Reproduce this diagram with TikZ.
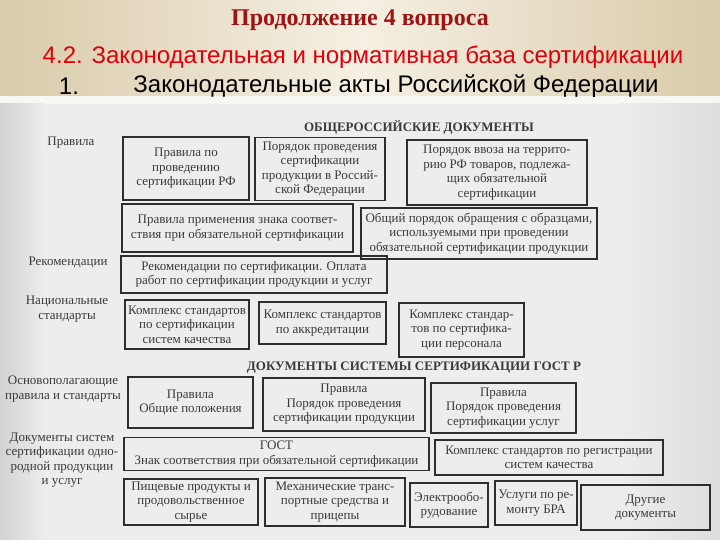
\documentclass[tikz,border=0pt]{standalone}
\usepackage{fontspec}
\setmainfont{Liberation Serif}
\newfontfamily\sansf{Liberation Sans}
\definecolor{beigeD}{HTML}{D9CBAA}
\definecolor{beigeL}{HTML}{F5F0E3}
\definecolor{scan}{HTML}{EDEDED}
\definecolor{scanD}{HTML}{D2D2D2}
\definecolor{strip}{HTML}{F7F7F4}
\definecolor{boxc}{HTML}{2E2E2E}
\definecolor{txtc}{HTML}{3A3A3A}
\definecolor{darkred}{HTML}{9E1414}
\definecolor{brightred}{HTML}{E0000A}
\newcommand{\bodyf}{\fontsize{13}{14.5}\selectfont}
\tikzset{
  bx/.style={draw=boxc, line width=1.1pt, align=center, inner sep=0pt, font=\bodyf, text=txtc},
  lbl/.style={align=center, inner sep=0pt, font=\bodyf, text=txtc},
  hdr/.style={inner sep=0pt, font=\fontsize{13}{15}\selectfont\bfseries, text=txtc},
}
\begin{document}
\begin{tikzpicture}[x=1pt,y=-1pt]
\useasboundingbox (0,0) rectangle (720,540);
% backgrounds
\shade[left color=beigeD, right color=beigeD, middle color=beigeL] (0,0) rectangle (720,97);
\fill[scan] (0,97) rectangle (720,540);
\fill[strip] (0,96) rectangle (720,104);
\shade[left color=scanD, right color=scan] (0,104) rectangle (45,540);
\shade[left color=scan, right color=scanD!60!scan] (620,104) rectangle (720,540);
% titles
\node[inner sep=0pt, font=\fontsize{24}{27}\selectfont\bfseries, text=darkred] (t1) at (360,20) {Продолжение 4 вопроса};
\node[inner sep=0pt, font=\sansf\fontsize{24}{27}\selectfont, text=brightred] (t2) at (363,57) {4.2. Законодательная и нормативная база сертификации};
\node[inner sep=0pt, font=\sansf\fontsize{24}{27}\selectfont, text=black] (t3a) at (69,86) {1.};
\node[inner sep=0pt, font=\sansf\fontsize{24}{27}\selectfont, text=black] (t3) at (396,86) {Законодательные акты Российской Федерации};
% headers
\node[hdr] (h1) at (419,127) {ОБЩЕРОССИЙСКИЕ ДОКУМЕНТЫ};
\node[hdr] (h2) at (414,368) {ДОКУМЕНТЫ СИСТЕМЫ СЕРТИФИКАЦИИ ГОСТ Р};
% left labels
\node[lbl] (l1) at (71,143) {Правила};
\node[lbl] (l2) at (68,262) {Рекомендации};
\node[lbl] (l3) at (67,309) {Национальные\\стандарты};
\node[lbl] (l4) at (63,389) {Основополагающие\\правила и стандарты};
\node[lbl] (l5) at (62,460) {Документы систем\\сертификации одно-\\родной продукции\\и услуг};
% boxes
\node[bx, minimum width=126pt, minimum height=63pt] (b1) at (186,168.5) {Правила по\\проведению\\сертификации РФ};
\node[bx, minimum width=130pt, minimum height=63pt] (b2) at (320,169) {Порядок проведения\\сертификации\\продукции в Россий-\\ской Федерации};
\node[bx, minimum width=180pt, minimum height=65pt] (b3) at (497,172.5) {Порядок ввоза на террито-\\рию РФ товаров, подлежа-\\щих обязательной\\сертификации};
\node[bx, minimum width=231pt, minimum height=48pt] (b4) at (237.5,228) {Правила применения знака соответ-\\ствия при обязательной сертификации};
\node[bx, minimum width=236pt, minimum height=51pt] (b5) at (479,233.5) {Общий порядок обращения с образцами,\\используемыми при проведении\\обязательной сертификации продукции};
\node[bx, minimum width=266pt, minimum height=37pt] (b6) at (254,274.5) {Рекомендации по сертификации. Оплата\\работ по сертификации продукции и услуг};
\node[bx, minimum width=124pt, minimum height=49pt] (b7) at (187,324.5) {Комплекс стандартов\\по сертификации\\систем качества};
\node[bx, minimum width=127pt, minimum height=42pt] (b8) at (322.5,323) {Комплекс стандартов\\по аккредитации};
\node[bx, minimum width=125pt, minimum height=54pt] (b9) at (461.5,330) {Комплекс стандар-\\тов по сертифика-\\ции персонала};
\node[bx, minimum width=125pt, minimum height=51pt] (b10) at (190.5,402.5) {Правила\\Общие положения};
\node[bx, minimum width=162pt, minimum height=53pt] (b11) at (344,404.5) {Правила\\Порядок проведения\\сертификации продукции};
\node[bx, minimum width=145pt, minimum height=50pt] (b12) at (503.5,408) {Правила\\Порядок проведения\\сертификации услуг};
\node[bx, minimum width=305pt, minimum height=33pt] (b13) at (276.5,454) {ГОСТ\\Знак соответствия при обязательной сертификации};
\node[bx, minimum width=228pt, minimum height=35pt] (b14) at (549,457.5) {Комплекс стандартов по регистрации\\систем качества};
\node[bx, minimum width=134pt, minimum height=46pt] (b15) at (191,502) {Пищевые продукты и\\продовольственное\\сырье};
\node[bx, minimum width=140pt, minimum height=48pt] (b16) at (335,502) {Механические транс-\\портные средства и\\прицепы};
\node[bx, minimum width=78pt, minimum height=44pt] (b17) at (449,505) {Электрообо-\\рудование};
\node[bx, minimum width=82pt, minimum height=44pt] (b18) at (536,503) {Услуги по ре-\\монту БРА};
\node[bx, minimum width=129pt, minimum height=45pt] (b19) at (645.5,507.5) {Другие\\документы};
\end{tikzpicture}
\end{document}
